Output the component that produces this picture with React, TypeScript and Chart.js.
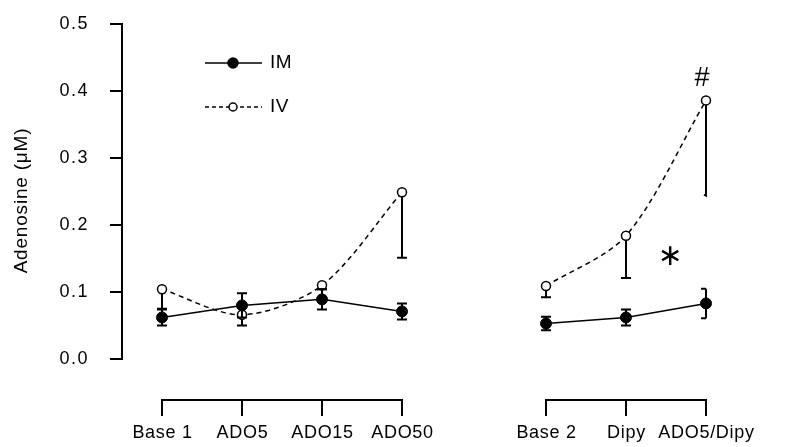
import { useEffect, useRef } from "react";
import { Chart, registerables } from "chart.js";

Chart.register(...registerables);

// Experimental conditions, in the order they appear along the x axis
const categories = ["Base 1", "ADO5", "ADO15", "ADO50", "Base 2", "Dipy", "ADO5/Dipy"];
// Axis coordinate of each condition (two protocol blocks with a gap between them)
const categoryX = [0, 1, 2, 3, 4.8, 5.8, 6.8];
// Index ranges [start, end) of each protocol block
const blocks: [number, number][] = [
  [0, 4],
  [4, 7],
];

// Intramuscular (IM) adenosine, mean and SEM (µM)
const imMean = [0.062, 0.08, 0.089, 0.071, 0.053, 0.062, 0.083];
const imSem = [0.012, 0.018, 0.015, 0.012, 0.01, 0.012, 0.022];

// Intravenous (IV) adenosine, mean and SEM (µM); SEM shown downward only
const ivMean = [0.104, 0.066, 0.11, 0.249, 0.109, 0.184, 0.386];
const ivSem = [0.029, 0.016, 0.006, 0.098, 0.017, 0.063, 0.142];

const yTicks = [0, 0.1, 0.2, 0.3, 0.4, 0.5];

// Significance marks: [x, y, symbol]
const marks: [number, number, string][] = [
  [6.75, 0.418, "#"],
  [6.35, 0.152, "\u2217"],
];

const FONT = '"Liberation Sans", Arial, Helvetica, sans-serif';

const points = (mean: number[], from: number, to: number) =>
  mean.slice(from, to).map((y, i) => ({ x: categoryX[from + i], y }));

const errorBarPlugin = {
  id: "errorBars",
  afterDatasetsDraw(chart: any) {
    const { ctx } = chart;
    const xs = chart.scales.x;
    const ys = chart.scales.y;
    const cap = 5;
    ctx.save();
    ctx.strokeStyle = "#000";
    ctx.lineWidth = 2;
    ctx.setLineDash([]);
    // IV: downward bars
    ivMean.forEach((m, i) => {
      const x = xs.getPixelForValue(categoryX[i]);
      const y0 = ys.getPixelForValue(m);
      const y1 = ys.getPixelForValue(m - ivSem[i]);
      ctx.beginPath();
      ctx.moveTo(x, y0 + 4.5);
      ctx.lineTo(x, y1);
      if (i === 6) {
        ctx.lineTo(x - 2, y1 - 1);
      } else {
        ctx.moveTo(x - cap, y1);
        ctx.lineTo(x + cap, y1);
      }
      ctx.stroke();
    });
    // IM: symmetric bars
    imMean.forEach((m, i) => {
      const x = xs.getPixelForValue(categoryX[i]);
      const yt = ys.getPixelForValue(m + imSem[i]);
      const yb = ys.getPixelForValue(m - imSem[i]);
      const left = cap;
      const right = i === 6 ? 0 : cap;
      ctx.beginPath();
      ctx.moveTo(x, yt);
      ctx.lineTo(x, yb);
      ctx.moveTo(x - left, yt);
      ctx.lineTo(x + right, yt);
      ctx.moveTo(x - left, yb);
      ctx.lineTo(x + right, yb);
      ctx.stroke();
    });
    ctx.restore();
  },
};

const decorPlugin = {
  id: "decor",
  afterDraw(chart: any) {
    const { ctx, chartArea } = chart;
    const xs = chart.scales.x;
    const ys = chart.scales.y;
    ctx.save();
    ctx.strokeStyle = "#000";
    ctx.fillStyle = "#000";
    ctx.lineWidth = 2;
    ctx.setLineDash([]);

    // y tick labels
    ctx.font = `18px ${FONT}`;
    ctx.letterSpacing = "1.5px";
    ctx.textAlign = "right";
    ctx.textBaseline = "middle";
    yTicks.forEach((v) => {
      ctx.fillText(v.toFixed(1), chartArea.left - 33, ys.getPixelForValue(v));
    });

    // Bracketed x axis, one per protocol block
    const axisY = chartArea.bottom + 41;
    const tickLen = 16;
    blocks.forEach(([a, b]) => {
      const x0 = xs.getPixelForValue(categoryX[a]);
      const x1 = xs.getPixelForValue(categoryX[b - 1]);
      ctx.beginPath();
      ctx.moveTo(x0, axisY);
      ctx.lineTo(x1, axisY);
      for (let i = a; i < b; i++) {
        const x = xs.getPixelForValue(categoryX[i]);
        ctx.moveTo(x, axisY - 1);
        ctx.lineTo(x, axisY + tickLen);
      }
      ctx.stroke();
    });
    ctx.letterSpacing = "0.7px";
    ctx.textAlign = "center";
    categories.forEach((c, i) => {
      ctx.fillText(c, xs.getPixelForValue(categoryX[i]) + 0.5, axisY + 33);
    });

    // y axis title
    ctx.save();
    ctx.font = `19px ${FONT}`;
    ctx.letterSpacing = "0.8px";
    ctx.translate(22, (chartArea.top + chartArea.bottom) / 2 + 9);
    ctx.rotate(-Math.PI / 2);
    ctx.fillText("Adenosine (\u03bcM)", 0, 0);
    ctx.restore();

    // Legend
    const lx = chartArea.left + 83;
    const rows = [
      { label: "IM", y: 63, dash: [] as number[], fill: "#000" },
      { label: "IV", y: 107, dash: [4, 3], fill: "#fff" },
    ];
    ctx.font = `19px ${FONT}`;
    ctx.letterSpacing = "0.5px";
    rows.forEach((r) => {
      ctx.lineWidth = 1.5;
      ctx.setLineDash(r.dash);
      ctx.beginPath();
      ctx.moveTo(lx, r.y);
      ctx.lineTo(lx + 57, r.y);
      ctx.stroke();
      ctx.setLineDash([]);
      ctx.beginPath();
      ctx.arc(lx + 28, r.y, r.fill === "#000" ? 5 : 4, 0, Math.PI * 2);
      ctx.fillStyle = r.fill;
      ctx.fill();
      ctx.stroke();
      ctx.fillStyle = "#000";
      ctx.textAlign = "left";
      ctx.fillText(r.label, lx + 65, r.y);
    });

    // Significance marks
    ctx.letterSpacing = "0px";
    ctx.textAlign = "center";
    ctx.textBaseline = "middle";
    marks.forEach(([x, y, s]) => {
      ctx.font = s === "#" ? `27px ${FONT}` : `30px "DejaVu Sans", sans-serif`;
      ctx.fillText(s, xs.getPixelForValue(x), ys.getPixelForValue(y));
    });
    ctx.restore();
  },
};

export default function App() {
  const ref = useRef<HTMLCanvasElement | null>(null);

  useEffect(() => {
    document.body.style.margin = "0";
    const canvas = ref.current;
    if (!canvas) return;

    const imStyle = {
      borderColor: "#000",
      borderWidth: 1.5,
      pointRadius: 5.5,
      pointBackgroundColor: "#000",
      pointBorderColor: "#000",
      pointBorderWidth: 1,
      tension: 0,
    };
    const ivStyle = {
      borderColor: "#000",
      borderWidth: 1.5,
      borderDash: [5, 4],
      pointRadius: 4.5,
      pointBackgroundColor: "#fff",
      pointBorderColor: "#000",
      pointBorderWidth: 1.5,
      tension: 0.3,
    };

    const datasets: any[] = [];
    blocks.forEach(([a, b]) => {
      datasets.push({ label: "IV", data: points(ivMean, a, b), ...ivStyle, order: 2 });
    });
    blocks.forEach(([a, b]) => {
      datasets.push({ label: "IM", data: points(imMean, a, b), ...imStyle, order: 1 });
    });

    const chart = new Chart(canvas, {
      type: "line",
      data: { datasets },
      options: {
        animation: false,
        responsive: false,
        devicePixelRatio: 1,
        layout: { padding: { top: 24, right: 15, bottom: 88, left: 0 } },
        plugins: { legend: { display: false }, tooltip: { enabled: false } },
        scales: {
          x: { type: "linear", min: -0.5, max: 7.6, display: false },
          y: {
            type: "linear",
            min: 0,
            max: 0.5,
            afterFit: (scale: any) => {
              scale.width = 122;
            },
            afterBuildTicks: (scale: any) => {
              scale.ticks = yTicks.map((v) => ({ value: v }));
            },
            ticks: {
              // labels are painted by the decor plugin
              callback: () => "",
              padding: 0,
            },
            grid: {
              drawOnChartArea: false,
              drawTicks: true,
              tickLength: 12,
              lineWidth: 2,
              color: "#000",
            },
            border: { display: true, width: 2, color: "#000" },
          },
        },
      },
      plugins: [errorBarPlugin, decorPlugin],
    });

    return () => chart.destroy();
  }, []);

  return <canvas ref={ref} width={785} height={447} style={{ display: "block" }} />;
}
